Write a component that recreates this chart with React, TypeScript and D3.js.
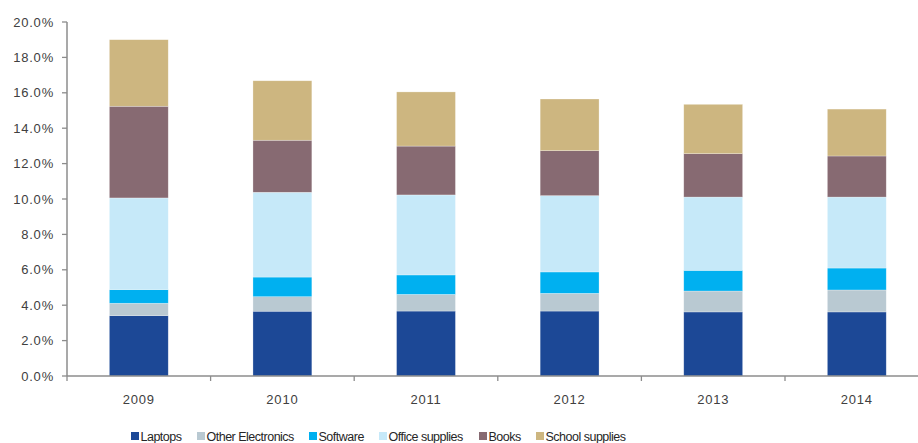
import React from "react";
import * as d3 from "d3";

const years = ["2009", "2010", "2011", "2012", "2013", "2014"];
const seriesNames = ["Laptops", "Other Electronics", "Software", "Office supplies", "Books", "School supplies"];
const laptops = [3.41, 3.66, 3.67, 3.67, 3.62, 3.62];
const otherElectronics = [0.70, 0.82, 0.94, 1.00, 1.18, 1.24];
const software = [0.77, 1.11, 1.10, 1.21, 1.17, 1.24];
const officeSupplies = [5.18, 4.79, 4.52, 4.31, 4.14, 4.01];
const books = [5.18, 2.94, 2.76, 2.54, 2.45, 2.32];
const schoolSupplies = [3.76, 3.36, 3.06, 2.92, 2.79, 2.65];
const yTicks = [0, 2, 4, 6, 8, 10, 12, 14, 16, 18, 20];

const colors = ["#1c4896", "#b9c9d2", "#00b0f0", "#c6e9f9", "#876a72", "#cdb680"];
const legendX = [131, 197, 309, 379, 479, 536];

const W = 918;
const H = 443;
const left = 67;
const step = 143.6;
const x0 = 376;
const yTop = 22;

export default function App() {
  const allSeries = [laptops, otherElectronics, software, officeSupplies, books, schoolSupplies];
  const rows = years.map((yr, i) => {
    const r: any = { year: yr };
    seriesNames.forEach((s, j) => (r[s] = allSeries[j][i]));
    return r;
  });
  const stacked = d3.stack<any>().keys(seriesNames)(rows);

  const x = d3
    .scaleBand<string>()
    .domain(years)
    .range([left, left + step * years.length])
    .paddingInner(0.59)
    .paddingOuter(0.295);
  const y = d3.scaleLinear().domain([0, 20]).range([x0, yTop]);
  const axisColor = "#8c8c8c";
  const font = "'Liberation Sans', Arial, sans-serif";

  return (
    <svg width={W} height={H} style={{ position: "absolute", left: 0, top: 0, background: "#fff" }}>
      {stacked.map((layer, j) => (
        <g key={layer.key} fill={colors[j]}>
          {layer.map((d, i) => (
            <rect
              key={i}
              x={x(years[i])}
              width={x.bandwidth()}
              y={y(d[1])}
              height={y(d[0]) - y(d[1])}
              stroke="#ffffff"
              strokeOpacity={0.45}
              strokeWidth={0.6}
            />
          ))}
        </g>
      ))}
      {/* y axis */}
      <line x1={left} x2={left} y1={yTop} y2={x0} stroke={axisColor} strokeWidth={1.5} />
      {yTicks.map((t) => (
        <g key={t}>
          <line x1={left - 5} x2={left} y1={y(t)} y2={y(t)} stroke={axisColor} strokeWidth={1.3} />
          <text
            x={54}
            y={y(t)}
            dy="0.35em"
            textAnchor="end"
            fontFamily={font}
            fontSize={13}
            letterSpacing={0.8}
            fill="#404040"
          >
            {t.toFixed(1) + "%"}
          </text>
        </g>
      ))}
      {/* x axis */}
      <line x1={left} x2={W} y1={x0} y2={x0} stroke={axisColor} strokeWidth={1.5} />
      {years.map((yr, i) => (
        <line
          key={"t" + yr}
          x1={left + step * i}
          x2={left + step * i}
          y1={x0}
          y2={x0 + 5}
          stroke={axisColor}
          strokeWidth={1.3}
        />
      ))}
      {years.map((yr) => (
        <text
          key={"l" + yr}
          x={(x(yr) as number) + x.bandwidth() / 2}
          y={404}
          textAnchor="middle"
          fontFamily={font}
          fontSize={13}
          letterSpacing={0.8}
          fill="#404040"
        >
          {yr}
        </text>
      ))}
      {/* legend */}
      {seriesNames.map((s, j) => (
        <g key={"lg" + s}>
          <rect x={legendX[j]} y={432} width={8} height={8} fill={colors[j]} />
          <text
            x={legendX[j] + 9.5}
            y={441}
            fontFamily={font}
            fontSize={12.5}
            letterSpacing={-0.5}
            fill="#262626"
          >
            {s}
          </text>
        </g>
      ))}
    </svg>
  );
}
